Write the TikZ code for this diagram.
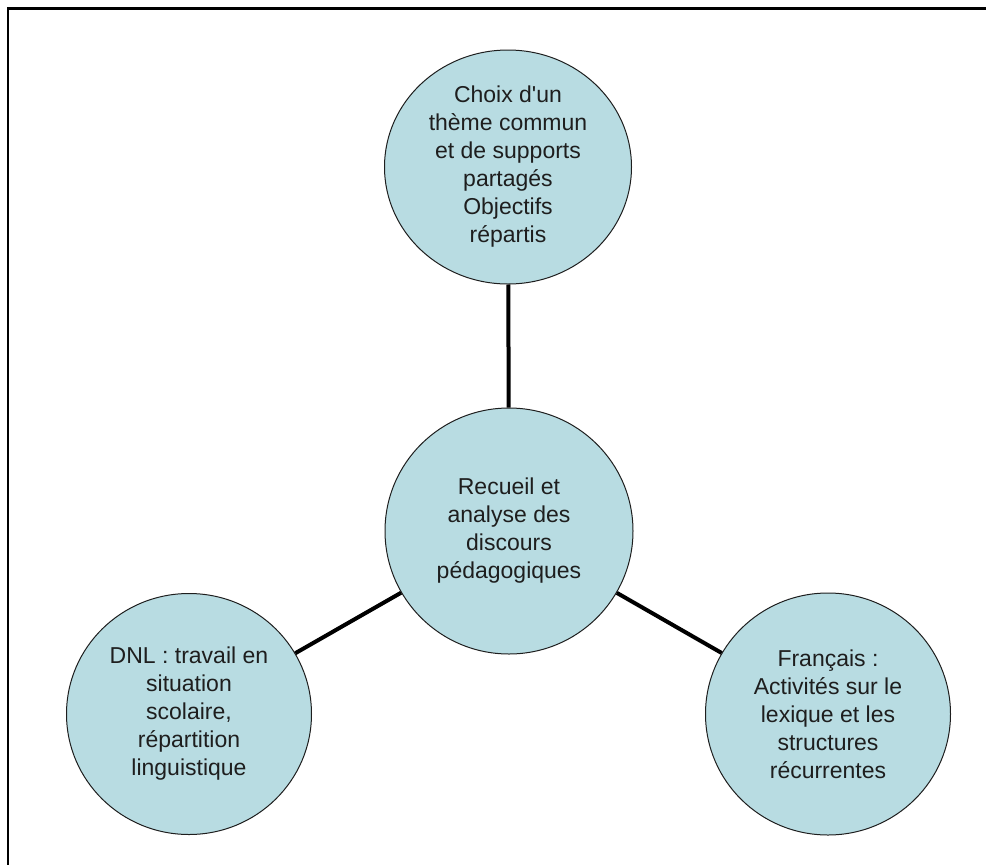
\documentclass[tikz,border=0pt]{standalone}
\usepackage{fontspec}
\setmainfont{Liberation Sans}
\usetikzlibrary{shapes.geometric}
\definecolor{bubblefill}{RGB}{184,220,226}
\definecolor{ink}{RGB}{30,30,30}
\begin{document}
\begin{tikzpicture}[x=1pt,y=-1pt,
  bubble/.style={ellipse, draw=ink, line width=1pt, fill=bubblefill, inner sep=0pt,
    align=center, text=ink, font=\fontsize{23}{28}\selectfont},
  link/.style={line width=4pt, draw=black}]
\useasboundingbox (0,0) rectangle (986,865);
\draw[line width=2.5pt] (8,866) -- (8,8.5) -- (987,8.5);

\node[bubble, minimum width=247pt, minimum height=234pt] (top) at (508,167)
  {Choix d\textquotesingle un\\thème commun\\et de supports\\partagés\\Objectifs\\répartis};
\node[bubble, minimum width=248pt, minimum height=246pt] (mid) at (509,531)
  {Recueil et\\analyse des\\discours\\pédagogiques};
\node[bubble, minimum width=245pt, minimum height=241pt] (left) at (189,714)
  {DNL : travail en\\situation\\scolaire,\\répartition\\linguistique};
\node[bubble, minimum width=245pt, minimum height=242pt] (right) at (828,714)
  {Français :\\Activités sur le\\lexique et les\\structures\\récurrentes};

\draw[link] (top) -- (mid);
\draw[link] (mid) -- (left);
\draw[link] (mid) -- (right);
\end{tikzpicture}
\end{document}
